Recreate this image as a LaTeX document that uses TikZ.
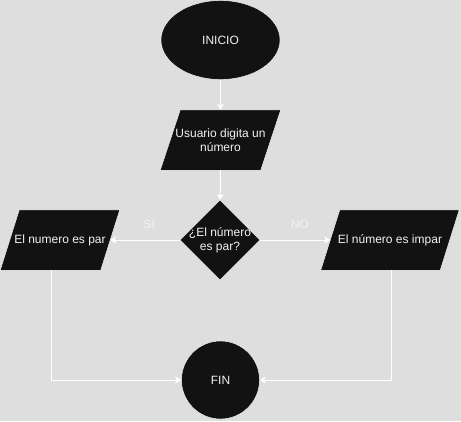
\documentclass[tikz,border=0pt]{standalone}
\usepackage{fontspec}
\setmainfont{Liberation Sans}
\usetikzlibrary{shapes.geometric,arrows.meta,backgrounds}
\definecolor{bg}{HTML}{DEDEDE}
\definecolor{shapefill}{HTML}{121212}
\definecolor{txt}{HTML}{F2F2F2}
\tikzset{
  txtfont/.style={font=\fontsize{12}{14}\selectfont},
  base/.style={txtfont, fill=shapefill, draw=white, line width=0.4pt, text=txt, align=center, inner sep=0pt},
  term/.style={base, ellipse, minimum width=119pt, minimum height=79pt},
  iobox/.style={txtfont, text=txt, align=center, inner sep=0pt, minimum width=100pt, minimum height=60pt},
  paraf/.style={fill=shapefill, draw=white, line width=0.4pt},
  dec/.style={base, diamond, minimum width=80pt, minimum height=80pt},
  endc/.style={base, circle, minimum size=78pt},
  conn/.style={draw=white, line width=1pt, -{Stealth[width=7pt,length=6pt,inset=1.5pt]}},
  lbl/.style={txtfont, text=txt}
}
\begin{document}
\begin{tikzpicture}[x=1pt,y=-1pt]
\useasboundingbox (0,0) rectangle (461,421);

\node[term] (ini) at (220.5,40) {INICIO};
\node[iobox] (p1) at (220.5,140) {Usuario digita un\\número};
\node[dec, label={[lbl, align=center]center:¿El número\\es par?}] (d) at (220,240) {};
\node[iobox] (pl) at (60,240) {El numero es par};
\node[iobox, minimum width=119pt] (pr) at (390,240) {El número es impar};
\node[endc] (fin) at (220.5,380) {FIN};

\begin{pgfonlayer}{background}
  \fill[bg] (0,0) rectangle (461,421);
  \path[paraf] ([xshift=10pt]p1.north west) -- ([xshift=10pt]p1.north east)
     -- ([xshift=-10pt]p1.south east) -- ([xshift=-10pt]p1.south west) -- cycle;
  \path[paraf] ([xshift=9.5pt]pl.north west) -- ([xshift=9.5pt]pl.north east)
     -- ([xshift=-9.5pt]pl.south east) -- ([xshift=-9.5pt]pl.south west) -- cycle;
  \path[paraf] ([xshift=9.5pt]pr.north west) -- ([xshift=9.5pt]pr.north east)
     -- ([xshift=-9.5pt]pr.south east) -- ([xshift=-9.5pt]pr.south west) -- cycle;
\end{pgfonlayer}

\coordinate (plout) at ([xshift=-9pt]pl.south);
\coordinate (prout) at ([xshift=1pt]pr.south);

\draw[conn] (ini) -- (p1);
\draw[conn] (p1) -- (d);
\draw[conn] (d) -- (pl);
\draw[conn] (d) -- (pr);
\draw[conn] (plout) |- (fin);
\draw[conn] (prout) |- (fin);

\node[lbl] (si) at (149,224) {SI};
\node[lbl] (no) at (300,224) {NO};
\end{tikzpicture}
\end{document}
